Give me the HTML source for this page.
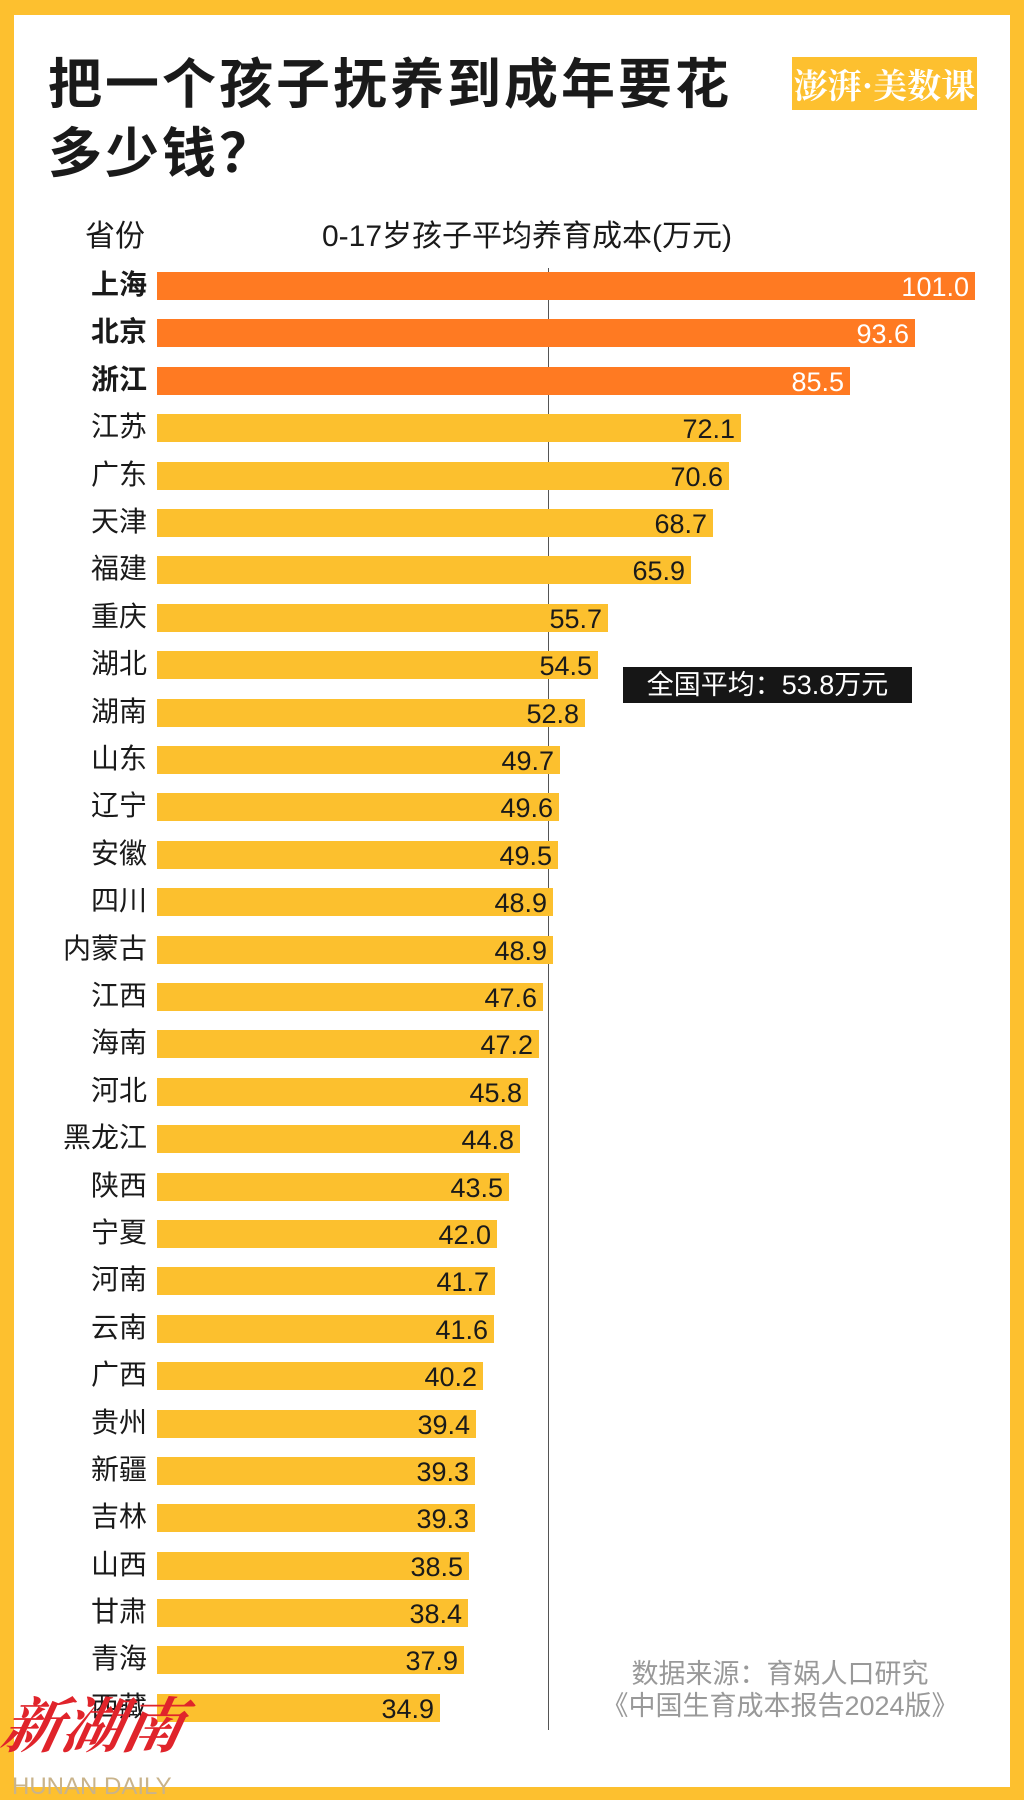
<!DOCTYPE html>
<html><head><meta charset="utf-8"><style>
html,body{margin:0;padding:0}
body{width:1024px;height:1800px;background:#FDC02F;position:relative;overflow:hidden;font-family:"Liberation Sans","Noto Sans CJK SC",sans-serif;}
#card{position:absolute;left:14px;top:15px;width:996px;height:1772px;background:#fff}
.a{position:absolute}
.t{left:48px;font-size:54px;font-weight:bold;color:#1a1a1a;line-height:60px;letter-spacing:3px}
.logo{left:792px;top:57px;width:185px;height:53px;background:#FDC02F;color:#fff;font-size:34px;font-weight:bold;text-align:center;line-height:53px;font-family:"Noto Serif CJK SC",serif}
.r{position:absolute;left:0;width:1000px;height:28px}
.l{position:absolute;right:853px;top:-4px;font-size:28px;line-height:34px;color:#1a1a1a;white-space:nowrap}
.b{position:absolute;left:157px;top:0;height:28px;background:#FCC02E;font-size:27px;line-height:31px;text-align:right;color:#1a1a1a;box-sizing:border-box;padding-right:6px}
.o .b{background:#FF7A22;color:#fff}
.o .l{font-weight:bold}
</style></head><body>
<div id="card"></div>
<div class="a t" style="top:55px">把一个孩子抚养到成年要花</div>
<div class="a t" style="top:124px">多少钱？</div>
<div class="a logo">澎湃·美数课</div>
<div class="a" style="left:85px;top:219px;font-size:30px;line-height:36px;color:#1a1a1a">省份</div>
<div class="a" style="left:322px;top:219px;font-size:30px;line-height:36px;color:#1a1a1a">0-17岁孩子平均养育成本(万元)</div>
<div class="a" style="left:548px;top:268px;width:1px;height:1462px;background:#555"></div>

<div class="r o" style="top:272px"><span class="l">上海</span><div class="b" style="width:818px">101.0</div></div>
<div class="r o" style="top:319px"><span class="l">北京</span><div class="b" style="width:758px">93.6</div></div>
<div class="r o" style="top:367px"><span class="l">浙江</span><div class="b" style="width:693px">85.5</div></div>
<div class="r" style="top:414px"><span class="l">江苏</span><div class="b" style="width:584px">72.1</div></div>
<div class="r" style="top:462px"><span class="l">广东</span><div class="b" style="width:572px">70.6</div></div>
<div class="r" style="top:509px"><span class="l">天津</span><div class="b" style="width:556px">68.7</div></div>
<div class="r" style="top:556px"><span class="l">福建</span><div class="b" style="width:534px">65.9</div></div>
<div class="r" style="top:604px"><span class="l">重庆</span><div class="b" style="width:451px">55.7</div></div>
<div class="r" style="top:651px"><span class="l">湖北</span><div class="b" style="width:441px">54.5</div></div>
<div class="r" style="top:699px"><span class="l">湖南</span><div class="b" style="width:428px">52.8</div></div>
<div class="r" style="top:746px"><span class="l">山东</span><div class="b" style="width:403px">49.7</div></div>
<div class="r" style="top:793px"><span class="l">辽宁</span><div class="b" style="width:402px">49.6</div></div>
<div class="r" style="top:841px"><span class="l">安徽</span><div class="b" style="width:401px">49.5</div></div>
<div class="r" style="top:888px"><span class="l">四川</span><div class="b" style="width:396px">48.9</div></div>
<div class="r" style="top:936px"><span class="l">内蒙古</span><div class="b" style="width:396px">48.9</div></div>
<div class="r" style="top:983px"><span class="l">江西</span><div class="b" style="width:386px">47.6</div></div>
<div class="r" style="top:1030px"><span class="l">海南</span><div class="b" style="width:382px">47.2</div></div>
<div class="r" style="top:1078px"><span class="l">河北</span><div class="b" style="width:371px">45.8</div></div>
<div class="r" style="top:1125px"><span class="l">黑龙江</span><div class="b" style="width:363px">44.8</div></div>
<div class="r" style="top:1173px"><span class="l">陕西</span><div class="b" style="width:352px">43.5</div></div>
<div class="r" style="top:1220px"><span class="l">宁夏</span><div class="b" style="width:340px">42.0</div></div>
<div class="r" style="top:1267px"><span class="l">河南</span><div class="b" style="width:338px">41.7</div></div>
<div class="r" style="top:1315px"><span class="l">云南</span><div class="b" style="width:337px">41.6</div></div>
<div class="r" style="top:1362px"><span class="l">广西</span><div class="b" style="width:326px">40.2</div></div>
<div class="r" style="top:1410px"><span class="l">贵州</span><div class="b" style="width:319px">39.4</div></div>
<div class="r" style="top:1457px"><span class="l">新疆</span><div class="b" style="width:318px">39.3</div></div>
<div class="r" style="top:1504px"><span class="l">吉林</span><div class="b" style="width:318px">39.3</div></div>
<div class="r" style="top:1552px"><span class="l">山西</span><div class="b" style="width:312px">38.5</div></div>
<div class="r" style="top:1599px"><span class="l">甘肃</span><div class="b" style="width:311px">38.4</div></div>
<div class="r" style="top:1646px"><span class="l">青海</span><div class="b" style="width:307px">37.9</div></div>
<div class="r" style="top:1694px"><span class="l">西藏</span><div class="b" style="width:283px">34.9</div></div>

<div class="a" style="left:623px;top:667px;width:289px;height:36px;background:#161616;color:#fff;font-size:27px;line-height:36px;text-align:center">全国平均：53.8万元</div>

<div class="a" style="left:600px;top:1658px;width:360px;text-align:center;color:#999;font-size:27px;line-height:32px">数据来源：育娲人口研究<br>《中国生育成本报告2024版》</div>

<div class="a" style="left:4px;top:1686px;color:#e0242b;font-size:60px;font-weight:bold;font-style:italic;line-height:72px;font-family:'Noto Serif CJK SC',serif;transform:skewX(-12deg)">新湖南</div>
<div class="a" style="left:12px;top:1774px;color:#c9b38a;font-size:24px;line-height:26px">HUNAN DAILY</div>
</body></html>
